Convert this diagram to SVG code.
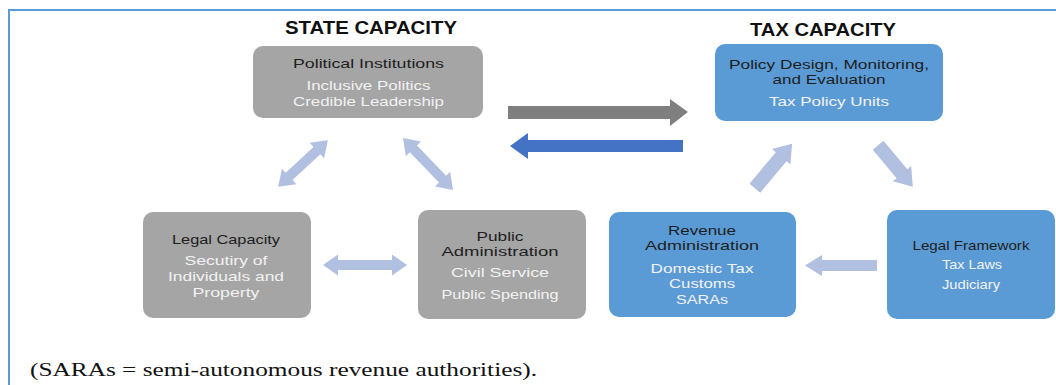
<svg xmlns="http://www.w3.org/2000/svg" width="1056" height="385" viewBox="0 0 1056 385">
<style>
.gray{fill:#a5a5a5}
.blue{fill:#5b9bd5}
.t{font-family:"Liberation Sans",Arial,sans-serif;font-size:13px;fill:#1e1e1e;text-anchor:middle}
.s{font-family:"Liberation Sans",Arial,sans-serif;font-size:13px;fill:#f2f2f2;text-anchor:middle}
.h{font-family:"Liberation Sans",Arial,sans-serif;font-weight:bold;font-size:19px;fill:#111;text-anchor:middle}
.lt{fill:#b1bfe1}
</style>
<rect width="1056" height="385" fill="#fff"/>
<path d="M9 385 V10 H1056" fill="none" stroke="#5b9bd5" stroke-width="2"/>
<text class="h" x="371" y="34" textLength="172" lengthAdjust="spacingAndGlyphs">STATE CAPACITY</text>
<text class="h" x="823" y="36" textLength="146" lengthAdjust="spacingAndGlyphs">TAX CAPACITY</text>

<g id="political-institutions">
<rect class="gray" x="253" y="46" width="230" height="72" rx="10"/>
<text class="t" x="368.5" y="68" textLength="151" lengthAdjust="spacingAndGlyphs">Political Institutions</text>
<text class="s" x="368.5" y="90" textLength="124" lengthAdjust="spacingAndGlyphs">Inclusive Politics</text>
<text class="s" x="368.5" y="105.5" textLength="151" lengthAdjust="spacingAndGlyphs">Credible Leadership</text>
</g>
<g id="policy-design">
<rect class="blue" x="715" y="44" width="228" height="77" rx="10"/>
<text class="t" x="829" y="68.5" textLength="200" lengthAdjust="spacingAndGlyphs">Policy Design, Monitoring,</text>
<text class="t" x="829" y="84" textLength="113" lengthAdjust="spacingAndGlyphs">and Evaluation</text>
<text class="s" x="829" y="106" textLength="120" lengthAdjust="spacingAndGlyphs">Tax Policy Units</text>
</g>
<g id="legal-capacity">
<rect class="gray" x="143" y="212" width="168" height="106" rx="10"/>
<text class="t" x="226" y="244" textLength="108" lengthAdjust="spacingAndGlyphs">Legal Capacity</text>
<text class="s" x="226" y="265" textLength="83" lengthAdjust="spacingAndGlyphs">Secutiry of</text>
<text class="s" x="226" y="281" textLength="116" lengthAdjust="spacingAndGlyphs">Individuals and</text>
<text class="s" x="226" y="297" textLength="67" lengthAdjust="spacingAndGlyphs">Property</text>
</g>
<g id="public-administration">
<rect class="gray" x="418" y="210" width="168" height="109" rx="10"/>
<text class="t" x="500" y="240.5" textLength="47" lengthAdjust="spacingAndGlyphs">Public</text>
<text class="t" x="500" y="256" textLength="117" lengthAdjust="spacingAndGlyphs">Administration</text>
<text class="s" x="500" y="277" textLength="98" lengthAdjust="spacingAndGlyphs">Civil Service</text>
<text class="s" x="500" y="298.5" textLength="117" lengthAdjust="spacingAndGlyphs">Public Spending</text>
</g>
<g id="revenue-administration">
<rect class="blue" x="609" y="212" width="187" height="105" rx="10"/>
<text class="t" x="702" y="234.5" textLength="68" lengthAdjust="spacingAndGlyphs">Revenue</text>
<text class="t" x="702" y="250" textLength="114" lengthAdjust="spacingAndGlyphs">Administration</text>
<text class="s" x="702" y="272.5" textLength="103" lengthAdjust="spacingAndGlyphs">Domestic Tax</text>
<text class="s" x="702" y="288" textLength="66" lengthAdjust="spacingAndGlyphs">Customs</text>
<text class="s" x="702" y="303.5" textLength="52" lengthAdjust="spacingAndGlyphs">SARAs</text>
</g>
<g id="legal-framework">
<rect class="blue" x="887" y="210" width="168" height="109" rx="10"/>
<text class="t" x="971" y="250" textLength="117" lengthAdjust="spacingAndGlyphs">Legal Framework</text>
<text class="s" x="972" y="269" textLength="60" lengthAdjust="spacingAndGlyphs">Tax Laws</text>
<text class="s" x="971" y="289" textLength="58" lengthAdjust="spacingAndGlyphs">Judiciary</text>
</g>

<g id="connectors">
<polygon fill="#7f7f7f" points="508,106 670,106 670,99 688,112 670,126 670,119 508,119"/>
<polygon fill="#4472c4" points="683,140 528,140 528,133 510,146 528,159 528,152 683,152"/>
<polygon class="lt" transform="translate(303,163.5) rotate(-43)" points="-34,0 -19,-10.5 -19,-5 19,-5 19,-10.5 34,0 19,10.5 19,5 -19,5 -19,10.5"/>
<polygon class="lt" transform="translate(428,164) rotate(46)" points="-36,0 -21,-10.5 -21,-5 21,-5 21,-10.5 36,0 21,10.5 21,5 -21,5 -21,10.5"/>
<polygon class="lt" transform="translate(365,265)" points="-42,0 -27,-10.5 -27,-5 27,-5 27,-10.5 42,0 27,10.5 27,5 -27,5 -27,10.5"/>
<polygon class="lt" points="877,260 822,260 822,255 805,265.5 822,276 822,271 877,271"/>
<polygon class="lt" transform="translate(773.5,166) rotate(-50)" points="-29,-7 12,-7 12,-12 29,0 12,12 12,7 -29,7"/>
<polygon class="lt" transform="translate(895.5,166) rotate(50)" points="-27,-7 10,-7 10,-12 27,0 10,12 10,7 -27,7"/>
</g>

<text x="30" y="376" style="font-family:'Liberation Serif','Times New Roman',serif;font-size:19px;fill:#111" textLength="507" lengthAdjust="spacingAndGlyphs">(SARAs = semi-autonomous revenue authorities).</text>
</svg>
